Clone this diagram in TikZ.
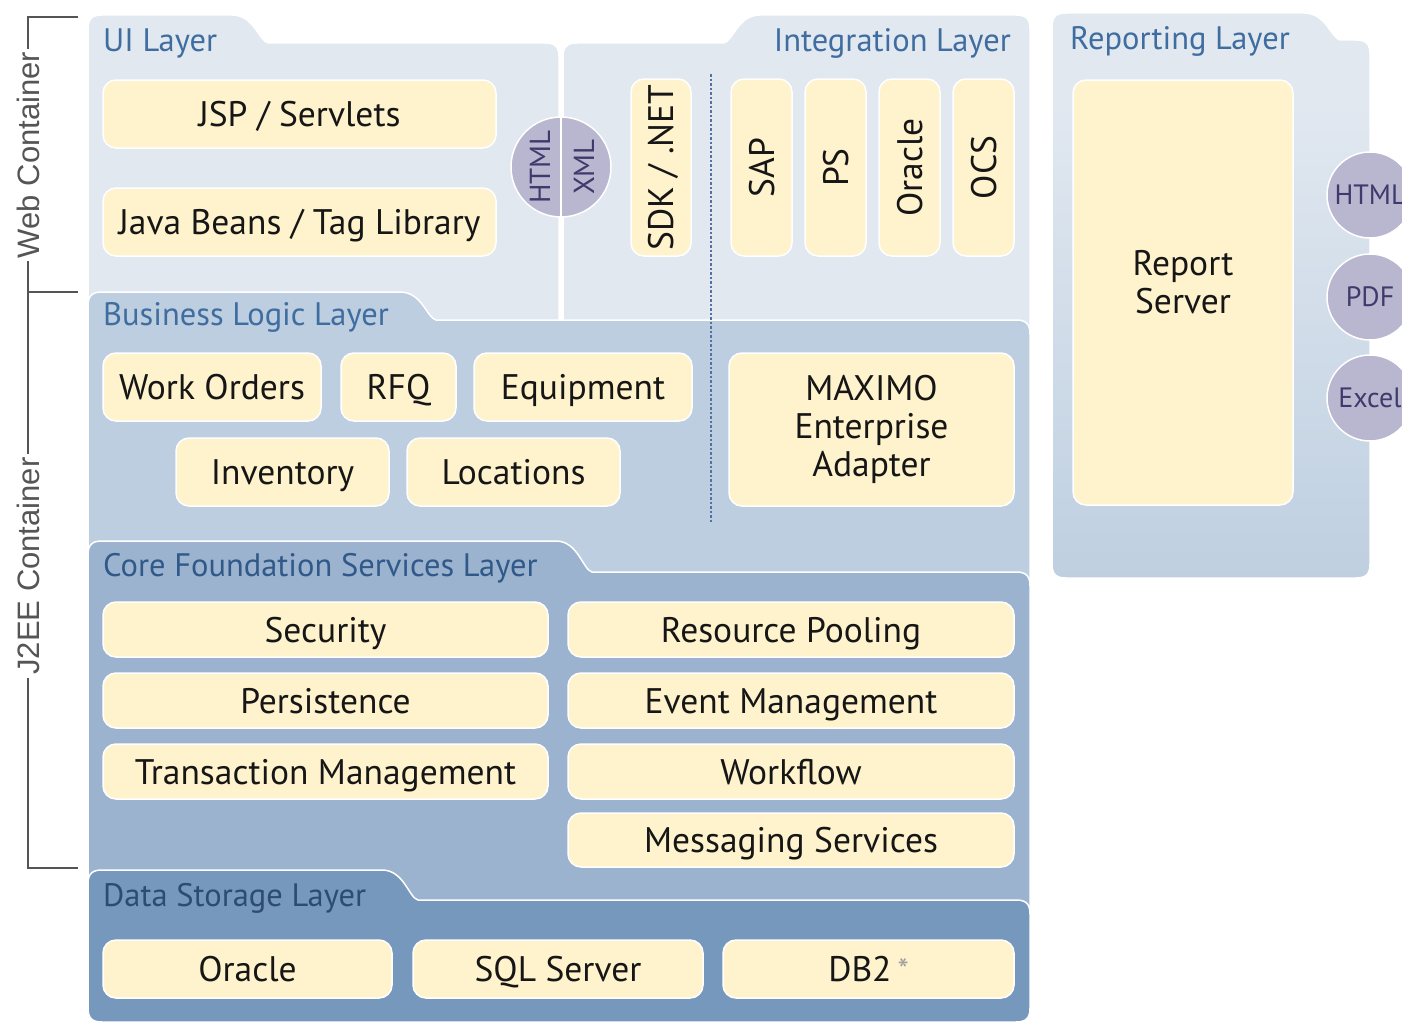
\documentclass[tikz,border=0pt]{standalone}
\usepackage{fontspec}
\setmainfont{PT Sans}
\newfontfamily\brfont{Liberation Sans}
\definecolor{pA}{HTML}{E1E8F0}
\definecolor{pB}{HTML}{BDCEE0}
\definecolor{pC}{HTML}{9BB3CE}
\definecolor{pD}{HTML}{7698BD}
\definecolor{boxY}{HTML}{FEF3CC}
\definecolor{txt}{HTML}{161616}
\definecolor{circ}{HTML}{B9B6D0}
\definecolor{circtxt}{HTML}{3E3A6C}
\definecolor{ttlA}{HTML}{3F6D9F}
\definecolor{ttlC}{HTML}{30598A}
\definecolor{ttlD}{HTML}{2D4C74}
\definecolor{brkc}{HTML}{555555}
\definecolor{dotc}{HTML}{5272A3}
\definecolor{astc}{HTML}{A0A0A0}
\pgfdeclareverticalshading{repshade}{100bp}{color(0bp)=(pB); color(23bp)=(pB); color(67bp)=(pA); color(100bp)=(pA)}
\newcommand\layerL[7]{%
 \path[#1] (#2,#7-14) -- (#2,#4+14) .. controls (#2,#4+4) and (#2+4,#4) .. (#2+14,#4) -- (#6,#4) .. controls (#6+22,#4) and (#6+27,#5-2) .. (#6+36,#5) -- (#3-14,#5) .. controls (#3-4,#5) and (#3,#5+4) .. (#3,#5+14) -- (#3,#7-14) .. controls (#3,#7-4) and (#3-4,#7) .. (#3-14,#7) -- (#2+14,#7) .. controls (#2+4,#7) and (#2,#7-4) .. (#2,#7-14) -- cycle;}
\newcommand\layerR[7]{%
 \path[#1] (#2,#7-14) -- (#2,#5+14) .. controls (#2,#5+4) and (#2+4,#5) .. (#2+14,#5) -- (#6-36,#5) .. controls (#6-27,#5-2) and (#6-22,#4) .. (#6,#4) -- (#3-14,#4) .. controls (#3-4,#4) and (#3,#4+4) .. (#3,#4+14) -- (#3,#7-14) .. controls (#3,#7-4) and (#3-4,#7) .. (#3-14,#7) -- (#2+14,#7) .. controls (#2+4,#7) and (#2,#7-4) .. (#2,#7-14) -- cycle;}
\newcommand\mybox[7][oneline]{\node[boxst, #1, minimum width={(#5-#3)*1pt}, minimum height={(#6-#4)*1pt}] (#2) at ({(#3+#5)/2},{(#4+#6)/2}) {#7};}
\newcommand\myvbox[6]{\node[boxst, oneline, rotate=90, minimum width={(#5-#3)*1pt}, minimum height={(#4-#2)*1pt}] (#1) at ({(#2+#4)/2},{(#3+#5)/2}) {#6};}
\begin{document}
\begin{tikzpicture}[x=1pt,y=-1pt]
\tikzset{
 layer/.style={draw=white, line width=1.5pt},
 boxst/.style={rectangle, rounded corners=13pt, fill=boxY, draw=white, line width=1.5pt, inner sep=0pt, align=center, text=txt, font=\fontsize{35.5}{38}\selectfont},
 oneline/.style={text height=25pt, text depth=0pt},
 multi/.style={},
 circst/.style={circle, fill=circ, draw=white, line width=1.5pt, inner sep=0pt, minimum size=86pt, text=circtxt, font=\fontsize{28}{30}\selectfont},
 circlbl/.style={rotate=90, text=circtxt, font=\fontsize{29}{30}\selectfont, inner sep=0pt},
 ttl/.style={font=\fontsize{32.5}{36}\selectfont, inner sep=0pt, text=ttlA},
 brk/.style={draw=brkc, line width=2pt},
 brklbl/.style={font=\brfont\fontsize{31}{34}\selectfont, text=brkc, inner sep=3pt, rotate=90},
 dotln/.style={draw=dotc, line width=2.5pt, dash pattern=on 2.5pt off 2pt}
}
\useasboundingbox (0,0) rectangle (1402,1025);
\clip (0,0) rectangle (1402,1025);
\fill[white] (0,0) rectangle (1402,1025);

% brackets
\coordinate (wtT) at (78,17);
\coordinate (wtC) at (28,17);
\node[brklbl] (webc) at (28,155) {Web Container};
\coordinate (midC) at (28,292);
\coordinate (midT) at (78,292);
\node[brklbl] (j2ee) at (28,566) {J2EE Container};
\coordinate (botC) at (28,868);
\coordinate (botT) at (78,868);
\draw[brk] (wtT) -- (wtC) -- (webc.east);
\draw[brk] (webc.west) -- (midC) -- (j2ee.east);
\draw[brk] (midC) -- (midT);
\draw[brk] (j2ee.west) -- (botC) -- (botT);

% layers
\layerL{layer, fill=pA}{88}{559}{15}{43}{232}{345}
\layerR{layer, fill=pA}{563}{1030}{15}{43}{760}{345}
\layerL{layer, fill=pB}{88}{1030}{292}{320}{400}{1022}
\layerL{layer, fill=pC}{88}{1030}{541}{572}{556}{1022}
\layerL{layer, fill=pD}{88}{1030}{870}{900}{382}{1022}
\layerL{layer, shading=repshade}{1052}{1370}{13}{40}{1304}{578}

% dotted separator
\coordinate (dtop) at (711,74);
\coordinate (dbot) at (711,522);
\draw[dotln] (dtop) -- (dbot);

% titles
\node[ttl, anchor=base west] (tui) at (103,52) {UI Layer};
\node[ttl, anchor=base east] (tint) at (1011,52) {Integration Layer};
\node[ttl, anchor=base west] (trep) at (1070,49) {Reporting Layer};
\node[ttl, anchor=base west] (tbl) at (103,325) {Business Logic Layer};
\node[ttl, anchor=base west, text=ttlC] (tcf) at (103,576) {Core Foundation Services Layer};
\node[ttl, anchor=base west, text=ttlD] (tds) at (103,906) {Data Storage Layer};

% UI
\mybox{jsp}{103}{80}{496}{148}{JSP / Servlets}
\mybox{jb}{103}{188}{496}{256}{Java Beans / Tag Library}
% HTML/XML circle
\node[circst, minimum size=100pt] (hx) at (561,167) {};
\draw[white, line width=2.5pt] (hx.north) -- (hx.south);
\node[circlbl] (hxh) at (540,167) {HTML};
\node[circlbl] (hxx) at (584,167) {XML};

% Integration
\myvbox{sdk}{631}{79}{691}{256}{SDK / .NET}
\myvbox{sap}{731}{79}{792}{256}{SAP}
\myvbox{ps}{805}{79}{866}{256}{PS}
\myvbox{iora}{879}{79}{940}{256}{Oracle}
\myvbox{ocs}{953}{79}{1014}{256}{OCS}

% Business
\mybox{wo}{103}{353}{321}{421}{Work Orders}
\mybox{rfq}{341}{353}{456}{421}{RFQ}
\mybox{eq}{474}{353}{692}{421}{Equipment}
\mybox{inv}{176}{438}{389}{506}{Inventory}
\mybox{loc}{407}{438}{620}{506}{Locations}
\mybox[multi]{mea}{729}{353}{1014}{506}{MAXIMO\\Enterprise\\Adapter}

% Core
\mybox{sec}{103}{602}{548}{657}{Security}
\mybox{rpool}{568}{602}{1014}{657}{Resource Pooling}
\mybox{per}{103}{673}{548}{728}{Persistence}
\mybox{em}{568}{673}{1014}{728}{Event Management}
\mybox{tm}{103}{744}{548}{799}{Transaction Management}
\mybox{wf}{568}{744}{1014}{799}{Workflow}
\mybox{ms}{568}{813}{1014}{867}{Messaging Services}

% Data
\mybox{dora}{103}{940}{392}{998}{Oracle}
\mybox{sql}{413}{940}{703}{998}{SQL Server}
\mybox{db2}{723}{940}{1014}{998}{DB2\,{\color{astc}\fontsize{32}{32}\selectfont *}}

% Reporting
\mybox[multi]{rs}{1073}{80}{1293}{505}{Report\\Server\\[-17pt]}
\node[circst] (ch) at (1370,195) {HTML};
\node[circst] (cp) at (1370,297) {PDF};
\node[circst] (ce) at (1370,398) {Excel};
\end{tikzpicture}
\end{document}
